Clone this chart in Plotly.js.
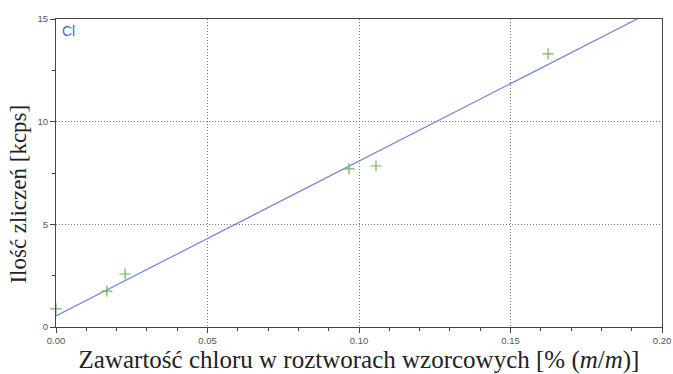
<!DOCTYPE html>
<html><head><meta charset="utf-8">
<script src="https://cdn.plot.ly/plotly-3.0.1.min.js"></script>
<style>html,body{margin:0;padding:0;background:#fff}#c{width:673px;height:374px}</style>
</head><body><div id="c"></div>
<script>
const stdX = [0.000, 0.0168, 0.0228, 0.0967, 0.1056, 0.1624];
const stdY = [0.88, 1.75, 2.58, 7.70, 7.84, 13.30];
const fitX = [0.0, 0.20];
const fitY = [0.54, 15.62];
const xTicks = [0, 0.05, 0.10, 0.15, 0.20];
const yTicks = [0, 5, 10, 15];

const traces = [
  {x: fitX, y: fitY, mode: 'lines', line: {color: '#6f86d6', width: 1.2}, hoverinfo: 'skip'},
  {x: stdX, y: stdY, mode: 'markers', marker: {symbol: 'cross-thin-open', size: 8, color: '#6fb35a', line: {color: '#6fb35a', width: 1.2}}, cliponaxis: false}
];
const tickFont = {family: 'Arial, Liberation Sans, sans-serif', size: 9.5, color: '#555'};
const layout = {
  width: 673, height: 374,
  margin: {l: 56, r: 11, t: 19, b: 47},
  paper_bgcolor: '#fff', plot_bgcolor: '#fff',
  showlegend: false,
  xaxis: {
    range: [0, 0.20], tick0: xTicks[0], dtick: xTicks[1] - xTicks[0], tickformat: '.2f',
    showgrid: true, gridcolor: '#777', griddash: '1px,2px', gridwidth: 1,
    zeroline: false, showline: true, linecolor: '#444', linewidth: 1, mirror: true,
    ticks: 'outside', ticklen: 5, tickcolor: '#444', tickfont: tickFont,
    minor: {dtick: 0.01, ticks: 'outside', ticklen: 3, tickcolor: '#444', showgrid: false},
    title: {text: 'Zawartość chloru w roztworach wzorcowych [% (<i>m</i>/<i>m</i>)]', standoff: 10,
      font: {family: 'Liberation Serif, Times New Roman, serif', size: 25, color: '#222'}}
  },
  yaxis: {
    range: [0, 15], tick0: yTicks[0], dtick: yTicks[1] - yTicks[0],
    showgrid: true, gridcolor: '#777', griddash: '1px,2px', gridwidth: 1,
    zeroline: false, showline: true, linecolor: '#444', linewidth: 1, mirror: true,
    ticks: 'outside', ticklen: 5, tickcolor: '#444', tickfont: tickFont,
    minor: {dtick: 2.5, ticks: 'outside', ticklen: 3, tickcolor: '#444', showgrid: false}
  },
  annotations: [{
    xref: 'paper', yref: 'paper', x: 0.006, y: 0.995, xanchor: 'left', yanchor: 'top',
    text: 'Cl', showarrow: false, font: {family: 'Arial, Liberation Sans, sans-serif', size: 14, color: '#3d6cc8'}
  }, {
    xref: 'paper', yref: 'paper', x: -0.061, y: 0.43, xanchor: 'center', yanchor: 'middle',
    textangle: -90, text: 'Ilość zliczeń [kcps]', showarrow: false,
    font: {family: 'Liberation Serif, Times New Roman, serif', size: 23, color: '#222'}
  }]
};
Plotly.newPlot('c', traces, layout, {displayModeBar: false, staticPlot: true});
</script></body></html>
